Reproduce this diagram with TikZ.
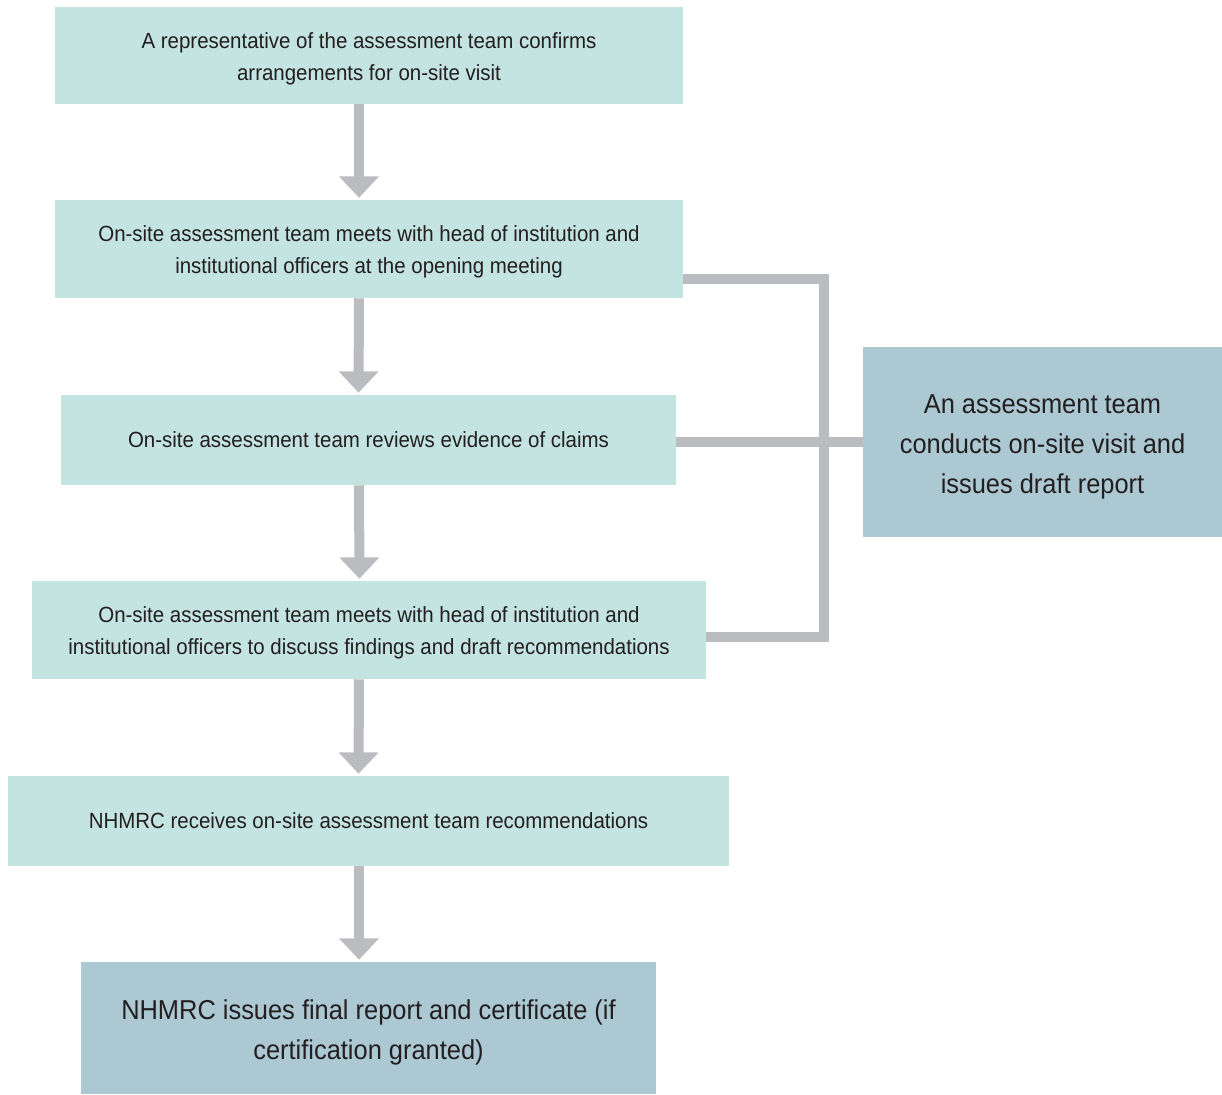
\documentclass[tikz,border=0pt]{standalone}
\usepackage{fontspec}
\setmainfont{Liberation Sans}[FakeStretch=0.93]
\usetikzlibrary{arrows.meta,calc}
\definecolor{boxA}{HTML}{C4E4E1}
\definecolor{boxB}{HTML}{ABC8D3}
\definecolor{conn}{HTML}{BBBCC0}
\definecolor{txt}{HTML}{231F20}
\begin{document}
\begin{tikzpicture}[x=0.75pt,y=-0.75pt,
  stepbox/.style={fill=boxA, inner sep=0pt, align=center, text=txt, font=\fontsize{16.5}{24}\selectfont},
  twoline/.style={text height=39pt, text depth=2pt},
  bigbox/.style={fill=boxB, inner sep=0pt, align=center, text=txt, font=\fontsize{20.5}{30}\selectfont},
  flow/.style={conn, line width=7.5pt, -{Triangle[width=29pt,length=16pt]}, shorten >=1.5pt},
  link/.style={conn, line width=7.5pt}]
\useasboundingbox (0,0) rectangle (1222,1095);
\node[stepbox, twoline, minimum width=628*0.75pt, minimum height=97*0.75pt] (b1) at (369,55.5)
  {A representative of the assessment team confirms\\arrangements for on-site visit};
\node[stepbox, twoline, minimum width=628*0.75pt, minimum height=98*0.75pt] (b2) at (369,249)
  {On-site assessment team meets with head of institution and\\institutional officers at the opening meeting};
\node[stepbox, minimum width=615*0.75pt, minimum height=90*0.75pt] (b3) at (368.5,440)
  {On-site assessment team reviews evidence of claims};
\node[stepbox, twoline, minimum width=674*0.75pt, minimum height=98*0.75pt] (b4) at (369,630)
  {On-site assessment team meets with head of institution and\\institutional officers to discuss findings and draft recommendations};
\node[stepbox, minimum width=721*0.75pt, minimum height=90*0.75pt] (b5) at (368.5,821)
  {NHMRC receives on-site assessment team recommendations};
\node[bigbox, text height=49pt, text depth=2.5pt, minimum width=575*0.75pt, minimum height=132*0.75pt] (b6) at (368.5,1028)
  {NHMRC issues final report and certificate (if\\certification granted)};
\node[bigbox, text height=79pt, text depth=2.5pt, minimum width=359*0.75pt, minimum height=190*0.75pt] (r) at (1042.5,442)
  {An assessment team\\conducts on-site visit and\\issues draft report};
\draw[flow] ([xshift=-7.5pt]b1.south) -- ([xshift=-7.5pt]b2.north);
\draw[flow] ([xshift=-7.5pt]b2.south) -- ([xshift=-7.5pt]b3.north);
\draw[flow] ([xshift=-7.125pt]b3.south) -- ([xshift=-7.125pt]b4.north);
\draw[flow] ([xshift=-7.5pt]b4.south) -- ([xshift=-7.5pt]b5.north);
\draw[flow] ([xshift=-7.125pt]b5.south) -- ([xshift=-7.125pt]b6.north);
\coordinate (c1) at (824,279);
\coordinate (c2) at (824,637);
\draw[link] (b2.east |- c1) -- (c1) -- (c2) -- (b4.east |- c2);
\draw[link] (b3.east |- r.west) -- (r.west);
\end{tikzpicture}
\end{document}
